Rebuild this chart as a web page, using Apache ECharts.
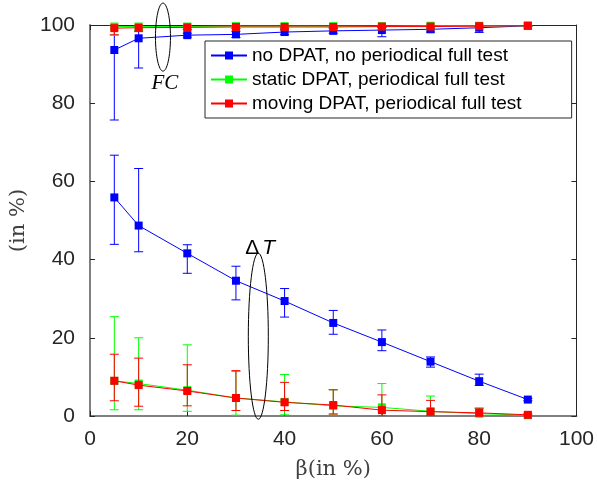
<!DOCTYPE html>
<html>
<head>
<meta charset="utf-8">
<script src="https://cdn.jsdelivr.net/npm/echarts@6/dist/echarts.min.js"></script>
<style>html,body{margin:0;padding:0;background:#fff}#c{width:597px;height:485px}</style>
</head>
<body>
<div id="c"></div>
<script>
// ---- data ----
const betas = [5, 10, 20, 30, 40, 50, 60, 70, 80, 90];
const xTicks = [0, 20, 40, 60, 80, 100];
const yTicks = [0, 20, 40, 60, 80, 100];
const seriesNames = ['no DPAT, no periodical full test', 'static DPAT, periodical full test', 'moving DPAT, periodical full test'];

// FC curves (upper group)
const fcNone     = [93.6, 96.6, 97.4, 97.6, 98.2, 98.5, 98.7, 98.9, 99.3, 99.8];
const fcNoneLo   = [75.7, 89.0, 96.9, 96.8, 97.5, 97.9, 97.0, 98.2, 98.1, 99.6];
const fcNoneHi   = [100, 100, 97.9, 98.4, 98.8, 99.1, 99.4, 99.6, 99.9, 100];
const fcStatic   = [99.6, 99.6, 99.6, 99.7, 99.7, 99.7, 99.7, 99.8, 99.8, 99.8];
const fcStaticLo = [97.4, 98.6, 98.9, 99.2, 99.3, 99.4, 99.5, 99.6, 99.6, 99.7];
const fcStaticHi = [100, 100, 100, 100, 100, 100, 100, 100, 100, 100];
const fcMoving   = [99.2, 99.3, 99.4, 99.5, 99.5, 99.5, 99.6, 99.6, 99.7, 99.8];
const fcMovingLo = [97.5, 98.3, 98.8, 99.1, 99.2, 99.3, 99.4, 99.5, 99.5, 99.7];
const fcMovingHi = [100, 100, 100, 100, 100, 100, 100, 100, 100, 100];

// Delta T curves (lower group)
const dtNone     = [55.9, 48.7, 41.6, 34.6, 29.4, 23.8, 18.9, 13.9, 8.9, 4.2];
const dtNoneLo   = [43.9, 42.0, 36.5, 29.7, 25.3, 20.9, 16.7, 12.5, 7.8, 3.9];
const dtNoneHi   = [66.7, 63.3, 43.8, 38.3, 32.6, 27.0, 22.0, 15.1, 10.7, 4.5];
const dtStatic   = [9.0, 8.3, 6.6, 4.6, 3.6, 2.6, 2.2, 1.2, 0.6, 0.2];
const dtStaticLo = [1.6, 1.6, 1.2, 0.2, 0.3, 0.5, 0, 0, 0, 0];
const dtStaticHi = [25.4, 20.0, 18.2, 11.4, 10.6, 6.7, 8.3, 5.1, 2.0, 0.5];
const dtMoving   = [9.0, 7.9, 6.4, 4.6, 3.5, 2.8, 1.5, 1.1, 0.8, 0.3];
const dtMovingLo = [3.9, 2.5, 2.6, 1.4, 1.4, 0.5, 0, 0, 0, 0];
const dtMovingHi = [15.8, 14.8, 13.1, 11.6, 8.6, 6.7, 5.4, 4.0, 2.0, 0.5];

// annotation anchors (data coords)
const fcEllipse = [15.0, 96.9];
const fcLabel = [15.4, 85.1];
const dtEllipse = [34.6, 20.4];
const dtLabel = [35.0, 43.0];

const colors = ['#0000ff', '#00ff00', '#ff0000'];

function pts(v) { return betas.map((b, i) => [b, v[i]]); }
function errs(lo, hi) { return betas.map((b, i) => [b, lo[i], hi[i]]); }

let errCount = 0;
function errSeries(color, lo, hi) {
  errCount++;
  return {
    type: 'custom', name: 'err' + errCount, clip: true, silent: true,
    data: errs(lo, hi),
    encode: { x: 0, y: [1, 2] },
    renderItem: function (params, api) {
      const x = api.value(0);
      const a = api.coord([x, api.value(1)]);
      const b = api.coord([x, api.value(2)]);
      const w = 4.5;
      const st = { stroke: color, lineWidth: 1 };
      return {
        type: 'group',
        children: [
          { type: 'line', shape: { x1: a[0], y1: a[1], x2: b[0], y2: b[1] }, style: st },
          { type: 'line', shape: { x1: a[0] - w, y1: a[1], x2: a[0] + w, y2: a[1] }, style: st },
          { type: 'line', shape: { x1: b[0] - w, y1: b[1], x2: b[0] + w, y2: b[1] }, style: st }
        ]
      };
    }
  };
}
function lineSeries(name, color, v) {
  return {
    type: 'line', name: name, data: pts(v), clip: true,
    symbol: 'rect', symbolSize: 8, showSymbol: true,
    itemStyle: { color: color },
    lineStyle: { color: color, width: 1 },
    emphasis: { disabled: true }
  };
}

const series = [
  lineSeries(seriesNames[0], colors[0], fcNone),
  lineSeries(seriesNames[0], colors[0], dtNone),
  errSeries(colors[0], fcNoneLo, fcNoneHi),
  errSeries(colors[0], dtNoneLo, dtNoneHi),
  lineSeries(seriesNames[1], colors[1], fcStatic),
  lineSeries(seriesNames[1], colors[1], dtStatic),
  errSeries(colors[1], fcStaticLo, fcStaticHi),
  errSeries(colors[1], dtStaticLo, dtStaticHi),
  lineSeries(seriesNames[2], colors[2], fcMoving),
  lineSeries(seriesNames[2], colors[2], dtMoving),
  errSeries(colors[2], fcMovingLo, fcMovingHi),
  errSeries(colors[2], dtMovingLo, dtMovingHi)
];
series.forEach((s, i) => { s.z = 2 + Math.floor(i / 4); });

const tickFont = { fontFamily: 'Liberation Sans, Arial, sans-serif', fontSize: 21, color: '#262626' };
const gray = '#808080';
const dark = '#262626';

const chart = echarts.init(document.getElementById('c'), null, { renderer: 'canvas' });
chart.setOption({
  animation: false,
  backgroundColor: '#ffffff',
  grid: { left: 90, right: 16, top: 25, bottom: 67, containLabel: false },
  legend: {
    data: seriesNames,
    orient: 'vertical', left: 205, top: 41,
    itemWidth: 36, itemHeight: 10, itemGap: 5,
    padding: [5, 50, 5, 5],
    backgroundColor: '#ffffff', borderColor: dark, borderWidth: 1,
    textStyle: { fontFamily: 'Liberation Sans, Arial, sans-serif', fontSize: 19, color: '#000' },
    selectedMode: false
  },
  xAxis: [
    {
      type: 'value', min: 0, max: 100, interval: 20,
      name: 'β(in %)', nameLocation: 'middle', nameGap: 43,
      nameTextStyle: { fontFamily: 'DejaVu Serif, serif', fontSize: 21, color: '#404040' },
      axisLine: { show: true, lineStyle: { color: gray, width: 2 } },
      axisTick: { show: true, inside: true, length: 5, lineStyle: { color: dark } },
      axisLabel: Object.assign({ margin: 13, customValues: xTicks }, tickFont),
      splitLine: { show: false }
    },
    {
      type: 'value', min: 0, max: 100, interval: 20, position: 'top',
      axisLine: { show: true, onZero: false, lineStyle: { color: dark, width: 1 } },
      axisTick: { show: true, inside: true, length: 5, lineStyle: { color: dark } },
      axisLabel: { show: false }, splitLine: { show: false }
    }
  ],
  yAxis: [
    {
      type: 'value', min: 0, max: 100, interval: 20,
      name: '(in %)', nameLocation: 'middle', nameGap: 58, nameRotate: 90,
      nameTextStyle: { fontFamily: 'DejaVu Serif, serif', fontSize: 21, color: '#404040' },
      axisLine: { show: true, lineStyle: { color: gray, width: 2 } },
      axisTick: { show: true, inside: true, length: 5, lineStyle: { color: dark } },
      axisLabel: Object.assign({ margin: 15, customValues: yTicks }, tickFont),
      splitLine: { show: false }
    },
    {
      type: 'value', min: 0, max: 100, interval: 20, position: 'right',
      axisLine: { show: true, onZero: false, lineStyle: { color: dark, width: 1 } },
      axisTick: { show: true, inside: true, length: 5, lineStyle: { color: dark } },
      axisLabel: { show: false }, splitLine: { show: false }
    }
  ],
  series: series
});

function px(p) { return chart.convertToPixel({ gridIndex: 0 }, p); }
const e1 = px(fcEllipse), t1 = px(fcLabel), e2 = px(dtEllipse), t2 = px(dtLabel);
chart.setOption({
  graphic: [
    { type: 'ellipse', shape: { cx: e1[0], cy: e1[1], rx: 7.5, ry: 34 }, style: { fill: 'none', stroke: '#000', lineWidth: 1 }, z: 100 },
    { type: 'text', x: t1[0], y: t1[1], style: { text: 'FC', font: 'italic 21px "Liberation Serif", "DejaVu Serif", serif', fill: '#000', align: 'center', verticalAlign: 'middle' }, z: 100 },
    { type: 'ellipse', shape: { cx: e2[0], cy: e2[1], rx: 10, ry: 83 }, style: { fill: 'none', stroke: '#000', lineWidth: 1 }, z: 100 },
    { type: 'text', x: t2[0], y: t2[1], style: {
        text: '{a|Δ}{b|T}', align: 'center', verticalAlign: 'middle',
        rich: {
          a: { fontFamily: 'Liberation Sans, Arial, sans-serif', fontSize: 21, fill: '#000', color: '#000', padding: [0, 3, 0, 0] },
          b: { fontFamily: 'Liberation Sans, Arial, sans-serif', fontStyle: 'italic', fontSize: 21, fill: '#000', color: '#000' }
        } }, z: 100 }
  ]
});
</script>
</body>
</html>
